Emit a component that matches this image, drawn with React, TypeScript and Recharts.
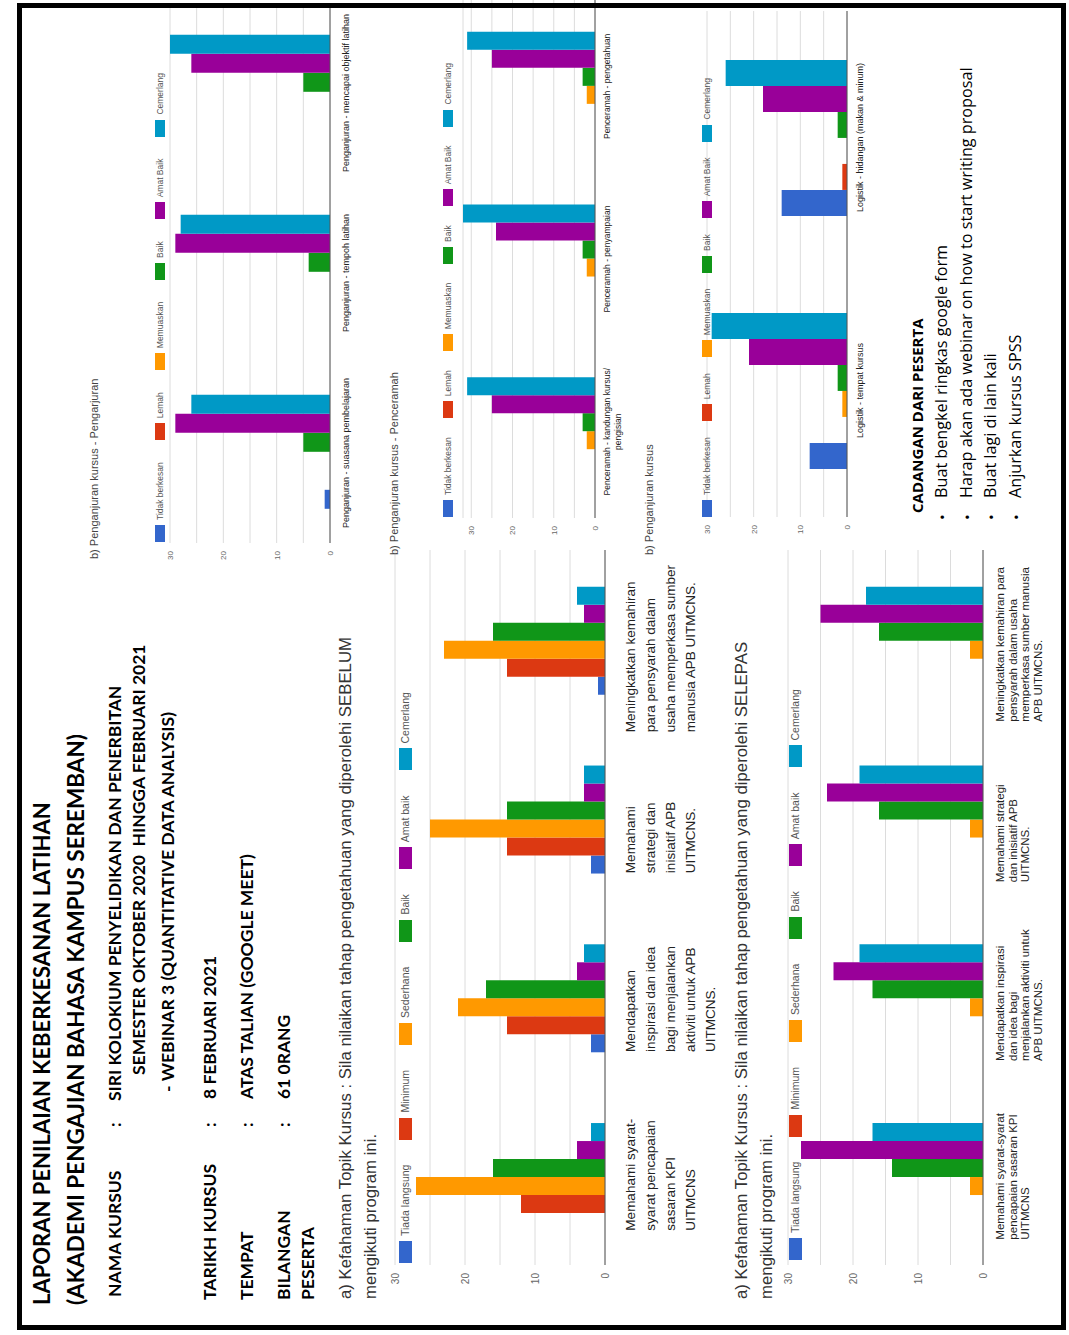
import { Bar, BarChart, CartesianGrid, Legend, XAxis, YAxis } from "recharts";

// rating scales and Google-style colours
const topikRatings = ["Tiada langsung", "Minimum", "Sederhana", "Baik", "Amat baik", "Cemerlang"];
const penganjuranRatings = ["Tidak berkesan", "Lemah", "Memuaskan", "Baik", "Amat Baik", "Cemerlang"];
const ratingColors = ["#3366cc", "#dc3912", "#ff9900", "#109618", "#990099", "#0099c6"];

// a) Kefahaman Topik Kursus - SEBELUM
const sebelumLabels = [
  "Memahami syarat-\nsyarat pencapaian\nsasaran KPI\nUITMCNS",
  "Mendapatkan\ninspirasi dan idea\nbagi menjalankan\naktiviti untuk APB\nUITMCNS.",
  "Memahami\nstrategi dan\ninisiatif APB\nUITMCNS.",
  "Meningkatkan kemahiran\npara pensyarah dalam\nusaha memperkasa sumber\nmanusia APB UITMCNS.",
];
const sebelumTiada = [0, 2, 2, 1];
const sebelumMinimum = [12, 14, 14, 14];
const sebelumSederhana = [27, 21, 25, 23];
const sebelumBaik = [16, 17, 14, 16];
const sebelumAmatBaik = [4, 4, 3, 3];
const sebelumCemerlang = [2, 3, 3, 4];

// a) Kefahaman Topik Kursus - SELEPAS
const selepasLabels = [
  "Memahami syarat-syarat\npencapaian sasaran KPI\nUITMCNS",
  "Mendapatkan inspirasi\ndan idea bagi\nmenjalankan aktiviti untuk\nAPB UITMCNS.",
  "Memahami strategi\ndan inisiatif APB\nUITMCNS.",
  "Meningkatkan kemahiran para\npensyarah dalam usaha\nmemperkasa sumber manusia\nAPB UITMCNS.",
];
const selepasTiada = [0, 0, 0, 0];
const selepasMinimum = [0, 0, 0, 0];
const selepasSederhana = [2, 2, 2, 2];
const selepasBaik = [14, 17, 16, 16];
const selepasAmatBaik = [28, 23, 24, 25];
const selepasCemerlang = [17, 19, 19, 18];

// b) Penganjuran kursus - Pengarjuran
const pengarjuranLabels = [
  "Penganjuran - suasana pembelajaran",
  "Penganjuran - tempoh latihan",
  "Penganjuran - mencapai objektif latihan",
];
const pengarjuranTidak = [1, 0, 0];
const pengarjuranLemah = [0, 0, 0];
const pengarjuranMemuaskan = [0, 0, 0];
const pengarjuranBaik = [5, 4, 5];
const pengarjuranAmatBaik = [29, 29, 26];
const pengarjuranCemerlang = [26, 28, 30];

// b) Penganjuran kursus - Penceramah
const penceramahLabels = [
  "Penceramah - kandungan kursus/\npengisian",
  "Penceramah - penyampaian",
  "Penceramah - pengetahuan",
];
const penceramahTidak = [0, 0, 0];
const penceramahLemah = [0, 0, 0];
const penceramahMemuaskan = [2, 2, 2];
const penceramahBaik = [3, 3, 3];
const penceramahAmatBaik = [25, 24, 25];
const penceramahCemerlang = [31, 32, 31];

// b) Penganjuran kursus - Logistik
const logistikLabels = ["Logistik - tempat kursus", "Logistik - hidangan (makan & minum)"];
const logistikTidak = [8, 14];
const logistikLemah = [0, 1];
const logistikMemuaskan = [1, 0];
const logistikBaik = [2, 2];
const logistikAmatBaik = [21, 18];
const logistikCemerlang = [29, 26];

const yTicks = [0, 5, 10, 15, 20, 25, 30];

const cadangan = [
  "Buat bengkel ringkas google form",
  "Harap akan ada webinar on how to start writing proposal",
  "Buat lagi di lain kali",
  "Anjurkan kursus SPSS",
];

type Row = Record<string, string | number>;

function buildRows(labels: string[], series: number[][]): Row[] {
  return labels.map((name, i) => {
    const row: Row = { name };
    series.forEach((s, k) => {
      row[`s${k}`] = s[i];
    });
    return row;
  });
}

const CHART_FONT = "'Liberation Sans', Arial, sans-serif";
const DOC_FONT = "Lato, 'Open Sans', sans-serif";

let measureCtx: CanvasRenderingContext2D | null = null;
function textWidth(s: string, size: number): number {
  if (!measureCtx) measureCtx = document.createElement("canvas").getContext("2d");
  if (!measureCtx) return s.length * size * 0.5;
  measureCtx.font = `${size}px 'Liberation Sans', Arial, sans-serif`;
  return measureCtx.measureText(s).width;
}

type SurveyChartProps = {
  data: Row[];
  names: string[];
  left: number;
  top: number;
  width: number;
  height: number;
  marginTop: number;
  marginRight: number;
  yWidth: number;
  xHeight: number;
  tickFont: number;
  labelFont: number;
  labelLine: number;
  labelDx: number;
  labelDy: number;
  labelAnchor: "start" | "middle";
  labelMaxRight?: number;
  legendTop: number;
  legendLeft: number;
  legendFont: number;
  markerW: number;
  markerH: number;
  legendGap: number;
};

function SurveyChart(p: SurveyChartProps) {
  const renderTick = (t: any) => {
    const lines = String(t.payload.value).split("\n");
    let tx = t.x + p.labelDx;
    if (p.labelAnchor === "start" && p.labelMaxRight) {
      // keep a wrapped label block inside the chart, as Google does
      const blockW = Math.max(...lines.map((l) => textWidth(l, p.labelFont)));
      if (tx + blockW > p.labelMaxRight) tx = p.labelMaxRight - blockW;
    }
    return (
      <text
        x={tx}
        y={t.y + p.labelDy}
        textAnchor={p.labelAnchor}
        fontSize={p.labelFont}
        fill="#222"
        fontFamily={CHART_FONT}
      >
        {lines.map((l, i) => (
          <tspan key={i} x={tx} dy={i === 0 ? 0 : p.labelLine}>
            {l}
          </tspan>
        ))}
      </text>
    );
  };

  const renderLegend = () => (
    <div
      style={{
        display: "flex",
        alignItems: "center",
        gap: p.legendGap,
        whiteSpace: "nowrap",
        fontFamily: CHART_FONT,
      }}
    >
      {p.names.map((n, k) => (
        <span key={n} style={{ display: "flex", alignItems: "center" }}>
          <span
            style={{
              display: "inline-block",
              width: p.markerW,
              height: p.markerH,
              background: ratingColors[k],
              marginRight: 5,
            }}
          />
          <span style={{ fontSize: p.legendFont, color: "#555", lineHeight: 1 }}>{n}</span>
        </span>
      ))}
    </div>
  );

  return (
    <div style={{ position: "absolute", left: p.left, top: p.top }}>
      <BarChart
        width={p.width}
        height={p.height}
        data={p.data}
        margin={{ top: p.marginTop, right: p.marginRight, left: 0, bottom: 0 }}
        barCategoryGap="19%"
        barGap={0}
      >
        <CartesianGrid vertical={false} stroke="#dcdcdc" />
        <XAxis
          dataKey="name"
          interval={0}
          height={p.xHeight}
          tickLine={false}
          axisLine={{ stroke: "#555" }}
          tick={renderTick}
        />
        <YAxis
          domain={[0, 30]}
          ticks={yTicks}
          interval={0}
          width={p.yWidth}
          axisLine={false}
          tickLine={false}
          tickFormatter={(v: number) => (v % 10 === 0 ? String(v) : "")}
          tick={{ fontSize: p.tickFont, fill: "#666", fontFamily: CHART_FONT }}
        />
        <Legend
          layout="horizontal"
          verticalAlign="middle"
          align="center"
          wrapperStyle={{ top: p.legendTop, left: p.legendLeft, width: "auto" }}
          content={renderLegend}
        />
        {p.names.map((n, k) => (
          <Bar
            key={n}
            dataKey={`s${k}`}
            name={n}
            fill={ratingColors[k]}
            isAnimationActive={false}
          />
        ))}
      </BarChart>
    </div>
  );
}

function Txt(props: {
  u: number;
  v: number;
  size: number;
  bold?: boolean;
  font?: string;
  color?: string;
  children: React.ReactNode;
}) {
  return (
    <div
      style={{
        position: "absolute",
        left: props.u,
        top: props.v - props.size * 0.6,
        fontSize: props.size,
        lineHeight: 1.2,
        fontWeight: props.bold ? 700 : 400,
        fontFamily: props.font || DOC_FONT,
        color: props.color || "#000",
        whiteSpace: "nowrap",
      }}
    >
      {props.children}
    </div>
  );
}

export default function App() {
  const sebelumData = buildRows(sebelumLabels, [
    sebelumTiada,
    sebelumMinimum,
    sebelumSederhana,
    sebelumBaik,
    sebelumAmatBaik,
    sebelumCemerlang,
  ]);
  const selepasData = buildRows(selepasLabels, [
    selepasTiada,
    selepasMinimum,
    selepasSederhana,
    selepasBaik,
    selepasAmatBaik,
    selepasCemerlang,
  ]);
  const pengarjuranData = buildRows(pengarjuranLabels, [
    pengarjuranTidak,
    pengarjuranLemah,
    pengarjuranMemuaskan,
    pengarjuranBaik,
    pengarjuranAmatBaik,
    pengarjuranCemerlang,
  ]);
  const penceramahData = buildRows(penceramahLabels, [
    penceramahTidak,
    penceramahLemah,
    penceramahMemuaskan,
    penceramahBaik,
    penceramahAmatBaik,
    penceramahCemerlang,
  ]);
  const logistikData = buildRows(logistikLabels, [
    logistikTidak,
    logistikLemah,
    logistikMemuaskan,
    logistikBaik,
    logistikAmatBaik,
    logistikCemerlang,
  ]);

  const smallTitle = { font: CHART_FONT, color: "#444" };
  const bulletFont = "'Open Sans', Lato, sans-serif";
  const hs = 17.5;

  return (
    <div
      style={{
        position: "absolute",
        left: 0,
        top: 0,
        width: 1069,
        height: 1335,
        background: "#fff",
        overflow: "hidden",
      }}
    >
      {/* the scanned page is landscape, turned a quarter anticlockwise */}
      <div
        style={{
          position: "absolute",
          left: 0,
          top: 0,
          width: 1335,
          height: 1069,
          transformOrigin: "0 0",
          transform: "translate(0px, 1335px) rotate(-90deg)",
        }}
      >
        <Txt u={30} v={42} size={22} bold>
          LAPORAN PENILAIAN KEBERKESANAN LATIHAN
        </Txt>
        <Txt u={30} v={75} size={22.5} bold>
          (AKADEMI PENGAJIAN BAHASA KAMPUS SEREMBAN)
        </Txt>

        <Txt u={38} v={114} size={hs} bold>NAMA KURSUS</Txt>
        <Txt u={208} v={114} size={hs} bold>:</Txt>
        <Txt u={234} v={114} size={hs} bold>SIRI KOLOKIUM PENYELIDIKAN DAN PENERBITAN</Txt>
        <Txt u={260} v={138} size={hs} bold>SEMESTER OKTOBER 2020&nbsp; HINGGA FEBRUARI 2021</Txt>
        <Txt u={243} v={167} size={hs} bold>- WEBINAR 3 (QUANTITATIVE DATA ANALYSIS)</Txt>

        <Txt u={35} v={209} size={hs} bold>TARIKH KURSUS</Txt>
        <Txt u={208} v={209} size={hs} bold>:</Txt>
        <Txt u={236} v={209} size={hs} bold>8 FEBRUARI 2021</Txt>

        <Txt u={35} v={246} size={hs} bold>TEMPAT</Txt>
        <Txt u={208} v={246} size={hs} bold>:</Txt>
        <Txt u={236} v={246} size={hs} bold>ATAS TALIAN (GOOGLE MEET)</Txt>

        <Txt u={35} v={283} size={hs} bold>BILANGAN</Txt>
        <Txt u={35} v={307} size={hs} bold>PESERTA</Txt>
        <Txt u={208} v={283} size={hs} bold>:</Txt>
        <Txt u={236} v={283} size={hs} bold>61 0RANG</Txt>

        {/* a) SEBELUM */}
        <Txt u={36} v={346} size={16.8} font={CHART_FONT} color="#333">
          a) Kefahaman Topik Kursus : Sila nilaikan tahap pengetahuan yang diperolehi SEBELUM
        </Txt>
        <Txt u={36} v={371} size={16.8} font={CHART_FONT} color="#333">
          mengikuti program ini.
        </Txt>
        <SurveyChart
          data={sebelumData}
          names={topikRatings}
          left={30}
          top={385}
          width={765}
          height={340}
          marginTop={10}
          marginRight={10}
          yWidth={40}
          xHeight={120}
          tickFont={10}
          labelFont={13.5}
          labelLine={20}
          labelDx={-55}
          labelDy={22}
          labelAnchor="start"
          labelMaxRight={740}
          legendTop={14}
          legendLeft={42}
          legendFont={10.5}
          markerW={22}
          markerH={13}
          legendGap={25}
        />

        {/* a) SELEPAS */}
        <Txt u={36} v={742} size={16.8} font={CHART_FONT} color="#333">
          a) Kefahaman Topik Kursus : Sila nilaikan tahap pengetahuan yang diperolehi SELEPAS
        </Txt>
        <Txt u={36} v={767} size={16.8} font={CHART_FONT} color="#333">
          mengikuti program ini.
        </Txt>
        <SurveyChart
          data={selepasData}
          names={topikRatings}
          left={30}
          top={778}
          width={765}
          height={270}
          marginTop={10}
          marginRight={10}
          yWidth={40}
          xHeight={65}
          tickFont={10}
          labelFont={11.5}
          labelLine={12.5}
          labelDx={-64}
          labelDy={13}
          labelAnchor="start"
          labelMaxRight={738}
          legendTop={11}
          legendLeft={45}
          legendFont={10.5}
          markerW={22}
          markerH={13}
          legendGap={25}
        />

        {/* b) Pengarjuran */}
        <Txt u={776} v={95} size={11} {...smallTitle}>
          b) Penganjuran kursus - Pengarjuran
        </Txt>
        <SurveyChart
          data={pengarjuranData}
          names={penganjuranRatings}
          left={752}
          top={150}
          width={583}
          height={210}
          marginTop={20}
          marginRight={3}
          yWidth={40}
          xHeight={30}
          tickFont={8}
          labelFont={9}
          labelLine={10}
          labelDx={0}
          labelDy={11}
          labelAnchor="middle"
          legendTop={5}
          legendLeft={41}
          legendFont={8.5}
          markerW={17}
          markerH={10}
          legendGap={22}
        />

        {/* b) Penceramah */}
        <Txt u={780} v={395} size={11} {...smallTitle}>
          b) Penganjuran kursus - Penceramah
        </Txt>
        <SurveyChart
          data={penceramahData}
          names={penganjuranRatings}
          left={777}
          top={443}
          width={558}
          height={187}
          marginTop={20}
          marginRight={0}
          yWidth={40}
          xHeight={35}
          tickFont={8}
          labelFont={8.5}
          labelLine={11}
          labelDx={0}
          labelDy={7}
          labelAnchor="middle"
          legendTop={0}
          legendLeft={41}
          legendFont={8.5}
          markerW={17}
          markerH={10}
          legendGap={19}
        />

        {/* b) Logistik */}
        <Txt u={780} v={650} size={11} {...smallTitle}>
          b) Penganjuran kursus
        </Txt>
        <SurveyChart
          data={logistikData}
          names={penganjuranRatings}
          left={778}
          top={690}
          width={557}
          height={187}
          marginTop={17}
          marginRight={11}
          yWidth={40}
          xHeight={30}
          tickFont={8}
          labelFont={9}
          labelLine={11}
          labelDx={0}
          labelDy={8}
          labelAnchor="middle"
          legendTop={12}
          legendLeft={40}
          legendFont={8.5}
          markerW={17}
          markerH={10}
          legendGap={16}
        />

        {/* cadangan */}
        <Txt u={822} v={917} size={15} bold font={bulletFont}>
          CADANGAN DARI PESERTA
        </Txt>
        {cadangan.map((c, i) => (
          <div key={c}>
            <Txt u={815} v={942 + i * 24.5} size={15} font={bulletFont}>•</Txt>
            <Txt u={837} v={942 + i * 24.5} size={16.2} font={bulletFont}>{c}</Txt>
          </div>
        ))}
      </div>

      {/* scan frame */}
      <div
        style={{
          position: "absolute",
          left: 17,
          top: 3,
          width: 1039,
          height: 1317,
          border: "5px solid #000",
        }}
      />
    </div>
  );
}
